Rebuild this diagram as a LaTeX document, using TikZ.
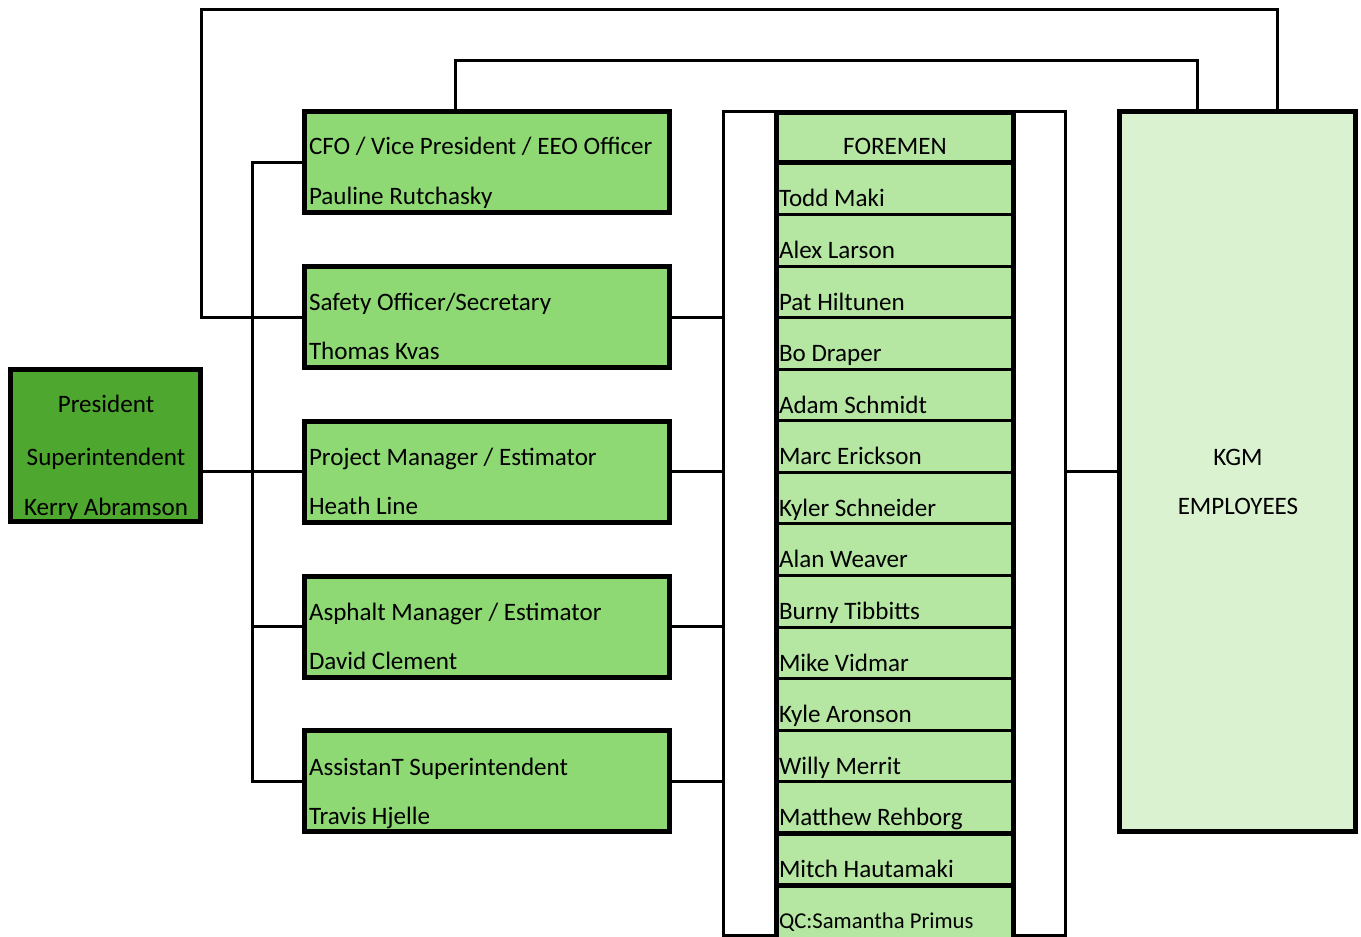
\documentclass[tikz,border=0pt]{standalone}
\usepackage{fontspec}
\setmainfont{Carlito}
\definecolor{presgreen}{HTML}{4EA72E}
\definecolor{midgreen}{HTML}{8ED973}
\definecolor{forgreen}{HTML}{B5E6A2}
\definecolor{kgmgreen}{HTML}{DAF2D0}
\begin{document}
\begin{tikzpicture}[x=0.75pt,y=-0.75pt,
  font=\fontsize{18.8}{22}\selectfont,
  bx/.style n args={2}{rectangle, inner sep=0pt, outer sep=0pt,
    minimum width=#1*0.75pt, minimum height=#2*0.75pt},
  thickbox/.style={draw=black, line width=3.75pt},
  conn/.style={draw=black, line width=2.25pt},
  thindiv/.style={draw=black, line width=2.25pt},
  thickdiv/.style={draw=black, line width=3.75pt},
  lbl/.style={inner sep=0pt, outer sep=0pt, anchor=base west},
  clbl/.style={inner sep=0pt, outer sep=0pt, anchor=base}]
\clip (0,0) rectangle (1361,937);
\useasboundingbox (0,0) rectangle (1361,937);

% outer white frame around foremen column
\node[bx={342}{824}, conn, anchor=north west] (fframe) at (723.5,111.5) {};

% boxes
\node[bx={190}{152}, thickbox, fill=presgreen] (pres) at (105,446) {};
\node[bx={365}{101}, thickbox, fill=midgreen] (cfo) at (486.5,162.5) {};
\node[bx={365}{101}, thickbox, fill=midgreen] (saf) at (486.5,317.5) {};
\node[bx={365}{101}, thickbox, fill=midgreen] (pm)  at (486.5,472) {};
\node[bx={365}{101}, thickbox, fill=midgreen] (asp) at (486.5,627) {};
\node[bx={365}{101}, thickbox, fill=midgreen] (ast) at (486.5,781) {};
\node[bx={236}{719}, thickbox, fill=kgmgreen] (kgm) at (1237,471.5) {};

% foremen column
\node[bx={237}{840}, thickbox, fill=forgreen, anchor=north west] (fcol) at (776,112.5) {};
\foreach \i in {2,...,13}{
  \draw[thindiv] (fcol.west |- 0,{163+(\i-1)*51.57}) -- (fcol.east |- 0,{163+(\i-1)*51.57});
}
\draw[thickdiv] (fcol.west |- 0,163) -- (fcol.east |- 0,163);
\draw[thickdiv] (fcol.west |- 0,833.4) -- (fcol.east |- 0,833.4);
\draw[thickdiv] (fcol.west |- 0,885) -- (fcol.east |- 0,885);

% coordinates for connectors
\coordinate (bus) at (252.5,0);
\coordinate (loopA) at (201.5,9.5);
\coordinate (loopAr) at (1277.5,0);
\coordinate (loopB) at (455.5,61);
\coordinate (loopBr) at (1197.5,0);

% connectors
\draw[conn] (cfo.west) -| (bus |- ast.west) -- (ast.west);
\draw[conn] (saf.west) -- (bus |- saf.west);
\draw[conn] (asp.west) -- (bus |- asp.west);
\draw[conn] (pres.east |- pm.west) -- (pm.west);
\draw[conn] (saf.east) -- (fframe.west |- saf.east);
\draw[conn] (pm.east) -- (fframe.west |- pm.east);
\draw[conn] (asp.east) -- (fframe.west |- asp.east);
\draw[conn] (ast.east) -- (fframe.west |- ast.east);
\draw[conn] (fframe.east |- kgm.west) -- (kgm.west);
\draw[conn] (saf.west) -| (loopA) -| (loopAr |- kgm.north);
\draw[conn] (loopB |- cfo.north) -- (loopB) -| (loopBr |- kgm.north);

% texts
\node[clbl] (presA) at (106,413) {President};
\node[clbl] (presB) at (106,466) {Superintendent};
\node[clbl] (presC) at (106,516) {Kerry Abramson};

\node[lbl] (cfoA) at (309,155) {CFO / Vice President / EEO Officer};
\node[lbl] (cfoB) at (309,205) {Pauline Rutchasky};
\node[lbl] (safA) at (309,311) {Safety Officer/Secretary};
\node[lbl] (safB) at (309,360) {Thomas Kvas};
\node[lbl] (pmA) at (309,466) {Project Manager / Estimator};
\node[lbl] (pmB) at (309,515) {Heath Line};
\node[lbl] (aspA) at (309,621) {Asphalt Manager / Estimator};
\node[lbl] (aspB) at (309,670) {David Clement};
\node[lbl] (astA) at (309,775) {AssistanT Superintendent};
\node[lbl] (astB) at (309,824) {Travis Hjelle};

\node[clbl] (kgmA) at (1238,466) {KGM};
\node[clbl] (kgmB) at (1238,515) {EMPLOYEES};

\node[clbl] (fhead) at (895,155) {FOREMEN};
\foreach \nm [count=\i] in {Todd Maki, Alex Larson, Pat Hiltunen, Bo Draper, Adam Schmidt, Marc Erickson, Kyler Schneider, Alan Weaver, Burny Tibbitts, Mike Vidmar, Kyle Aronson, Willy Merrit, Matthew Rehborg, Mitch Hautamaki}{
  \node[lbl] (f\i) at (779,{163+(\i-1)*51.57+44}) {\nm};
}
\node[lbl, font=\fontsize{17}{20}\selectfont] (f15) at (779,928) {QC:Samantha Primus};
\end{tikzpicture}
\end{document}
